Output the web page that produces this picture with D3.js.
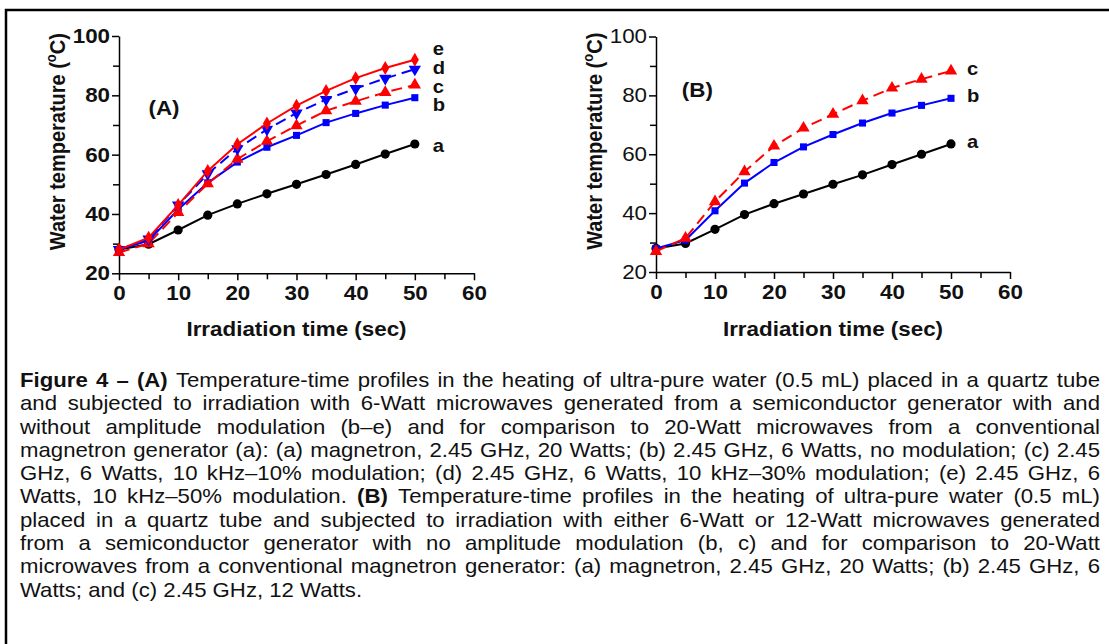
<!DOCTYPE html>
<html>
<head>
<meta charset="utf-8">
<script src="https://cdn.jsdelivr.net/npm/d3@7"></script>
<style>
body{margin:0;background:#fff;}
svg{display:block;}
text{font-family:"Liberation Sans",Arial,sans-serif;fill:#111;}
</style>
</head>
<body>
<div id="plot"></div>
<script>
// data
var timeSec = [0,5,10,15,20,25,30,35,40,45,50];
var xTicks = [0,10,20,30,40,50,60];
var yTicks = [20,40,60,80,100];

// panel A
var tempA_a = [28,29.8,34.6,39.6,43.4,46.8,50,53.3,56.7,60.2,63.6];
var tempA_b = [28,31,41.5,50.5,57.5,62.5,66.5,70.8,73.9,76.7,79.2];
var tempA_c = [27,30,40.5,50.2,58.5,64.5,69.8,74.8,78,81,83.5];
var tempA_d = [28,31.5,43,53.5,62,68.5,74,78.6,82.3,85.7,88.8];
var tempA_e = [28,32,43,54.5,63.5,70.5,76.5,81.5,85.8,89.2,92];

// panel B
var tempB_a = [28,29.7,34.5,39.5,43.2,46.5,49.8,53,56.5,60,63.5];
var tempB_b = [28,30.8,40.8,50.2,57.2,62.5,66.7,70.6,74,76.6,79];
var tempB_c = [27,31.5,43.9,54.1,62.8,68.9,73.6,78.2,82.5,85.5,88.3];

var captionLines = [
  "**Figure 4 – (A)** Temperature-time profiles in the heating of ultra-pure water (0.5 mL) placed in a quartz tube",
  "and subjected to irradiation with 6-Watt microwaves generated from a semiconductor generator with and",
  "without amplitude modulation (b–e) and for comparison to 20-Watt microwaves from a conventional",
  "magnetron generator (a): (a) magnetron, 2.45 GHz, 20 Watts; (b) 2.45 GHz, 6 Watts, no modulation; (c) 2.45",
  "GHz, 6 Watts, 10 kHz–10% modulation; (d) 2.45 GHz, 6 Watts, 10 kHz–30% modulation; (e) 2.45 GHz, 6",
  "Watts, 10 kHz–50% modulation. **(B)** Temperature-time profiles in the heating of ultra-pure water (0.5 mL)",
  "placed in a quartz tube and subjected to irradiation with either 6-Watt or 12-Watt microwaves generated",
  "from a semiconductor generator with no amplitude modulation (b, c) and for comparison to 20-Watt",
  "microwaves from a conventional magnetron generator: (a) magnetron, 2.45 GHz, 20 Watts; (b) 2.45 GHz, 6",
  "Watts; and (c) 2.45 GHz, 12 Watts."
];

var W = 1109, H = 644;
var sx = 1.12; // the picture is a bit wider than tall, stretch text the same way
var red = '#ff0000', blue = '#0000ff', black = '#000';

var svg = d3.select('#plot').append('svg')
  .attr('width', W).attr('height', H);

// frame (only top and left visible)
svg.append('path')
  .attr('d', 'M6,' + H + ' L6,10 L' + W + ',10')
  .attr('fill', 'none').attr('stroke', '#000').attr('stroke-width', 2.5);

var tri = d3.symbolTriangle;

function drawPanel(cfg) {
  var x = d3.scaleLinear().domain([0,60]).range([cfg.left, cfg.right]);
  var y = d3.scaleLinear().domain([20,100]).range([cfg.bottom, cfg.top]);
  var g = svg.append('g');

  // minor ticks
  g.append('g').attr('transform','translate(0,'+cfg.bottom+')')
    .call(d3.axisBottom(x).tickValues([5,15,25,35,45,55]).tickSize(6).tickFormat(''))
    .call(function(a){ a.select('.domain').remove(); a.selectAll('line').attr('stroke-width',1.5); });
  g.append('g').attr('transform','translate('+cfg.left+',0)')
    .call(d3.axisLeft(y).tickValues([30,50,70,90]).tickSize(6).tickFormat(''))
    .call(function(a){ a.select('.domain').remove(); a.selectAll('line').attr('stroke-width',1.5); });

  var xa = g.append('g').attr('transform','translate(0,'+cfg.bottom+')')
    .call(d3.axisBottom(x).tickValues(xTicks).tickSize(7).tickSizeOuter(0).tickPadding(6));
  var ya = g.append('g').attr('transform','translate('+cfg.left+',0)')
    .call(d3.axisLeft(y).tickValues(yTicks).tickSize(7).tickSizeOuter(0).tickPadding(1));
  [xa, ya].forEach(function(a){
    a.select('.domain').attr('stroke-width',1.5);
    a.selectAll('line').attr('stroke-width',1.5);
    a.selectAll('text').attr('font-size',20).attr('fill','#111')
      .attr('font-family','"Liberation Sans",Arial,sans-serif')
      .attr('transform','scale('+sx+',1)');
  });
  xa.selectAll('text').attr('font-weight','bold');
  ya.selectAll('text').attr('font-weight', cfg.yBold ? 'bold' : 'normal');

  // axis titles
  g.append('text')
    .attr('transform','translate('+((cfg.left+cfg.right)/2)+',336) scale('+sx+',1)')
    .attr('text-anchor','middle').attr('font-size',20).attr('font-weight','bold')
    .text('Irradiation time (sec)');
  var yt = g.append('text')
    .attr('transform','translate('+(cfg.left-54)+','+((cfg.top+cfg.bottom)/2 - 13)+') scale('+sx+',1) rotate(-90)')
    .attr('text-anchor','middle').attr('font-size',20).attr('font-weight','bold');
  yt.append('tspan').text('Water temperature (');
  yt.append('tspan').attr('font-size',13).attr('dy',-8).text('o');
  yt.append('tspan').attr('dy',8).text('C)');

  // panel letter
  g.append('text')
    .attr('transform','translate('+x(cfg.tagAt[0])+','+y(cfg.tagAt[1])+') scale('+sx+',1)')
    .attr('text-anchor','middle').attr('font-size',20).attr('font-weight','bold')
    .text(cfg.tag);

  var line = d3.line().x(function(d,i){ return x(timeSec[i]); }).y(function(d){ return y(d); });

  cfg.series.forEach(function(s){
    g.append('path').datum(s.values)
      .attr('d', line).attr('fill','none')
      .attr('stroke', s.color).attr('stroke-width', 2)
      .attr('stroke-dasharray', s.dash ? '11,6' : null);
    g.selectAll(null).data(s.values).enter().append('path')
      .attr('d', d3.symbol().type(s.symbol).size(s.size))
      .attr('transform', function(d,i){
        return 'translate('+x(timeSec[i])+','+y(d)+')' + (s.flip ? ' rotate(180)' : '');
      })
      .attr('fill', s.color);
    var last = s.values[s.values.length-1];
    g.append('text')
      .attr('transform','translate('+(x(50)+cfg.labelDx)+','+(y(last)+s.labelDy)+') scale('+sx+',1)')
      .attr('font-size',18).attr('font-weight','bold')
      .text(s.name);
  });
}

drawPanel({
  left:119, right:474, top:36, bottom:273.3, yBold:true,
  tag:'(A)', tagAt:[7.6,73.2], labelDx:18,
  series:[
    {name:'a', values:tempA_a, color:black, symbol:d3.symbolCircle, size:66, labelDy:8},
    {name:'b', values:tempA_b, color:blue, symbol:d3.symbolSquare, size:50, labelDy:13},
    {name:'c', values:tempA_c, color:red, symbol:tri, size:66, dash:true, labelDy:8},
    {name:'d', values:tempA_d, color:blue, symbol:tri, size:66, dash:true, flip:true, labelDy:5},
    {name:'e', values:tempA_e, color:red, symbol:d3.symbolDiamond, size:56, labelDy:-5}
  ]
});

drawPanel({
  left:656, right:1010, top:36.5, bottom:272, yBold:false,
  tag:'(B)', tagAt:[7,79.6], labelDx:16,
  series:[
    {name:'a', values:tempB_a, color:black, symbol:d3.symbolCircle, size:66, labelDy:4},
    {name:'b', values:tempB_b, color:blue, symbol:d3.symbolSquare, size:50, labelDy:4},
    {name:'c', values:tempB_c, color:red, symbol:tri, size:66, dash:true, labelDy:4}
  ]
});

// caption, justified word by word
var cap = svg.append('g').attr('transform','translate(20,0) scale('+sx+',1)');
var capWidth = 1080 / sx, capSize = 19.8, capTop = 387, capStep = 23.3;
var probe = cap.append('text').attr('font-size', capSize);
function measure(t, bold) {
  probe.attr('font-weight', bold ? 'bold' : 'normal').text(t);
  return probe.node().getComputedTextLength();
}
var spaceW = measure('a a') - measure('aa');

captionLines.forEach(function(str, li){
  var words = [];
  str.split('**').forEach(function(part, k){
    part.split(' ').filter(function(w){ return w.length; }).forEach(function(w){
      words.push({t:w, bold:k % 2 === 1, w:measure(w, k % 2 === 1)});
    });
  });
  var total = d3.sum(words, function(d){ return d.w; });
  var isLast = li === captionLines.length - 1;
  var gap = isLast ? spaceW : (capWidth - total) / (words.length - 1);
  var xx = 0;
  words.forEach(function(d){
    cap.append('text').attr('x', xx).attr('y', capTop + li*capStep)
      .attr('font-size', capSize).attr('font-weight', d.bold ? 'bold' : 'normal')
      .text(d.t);
    xx += d.w + gap;
  });
});
probe.remove();
</script>
</body>
</html>
